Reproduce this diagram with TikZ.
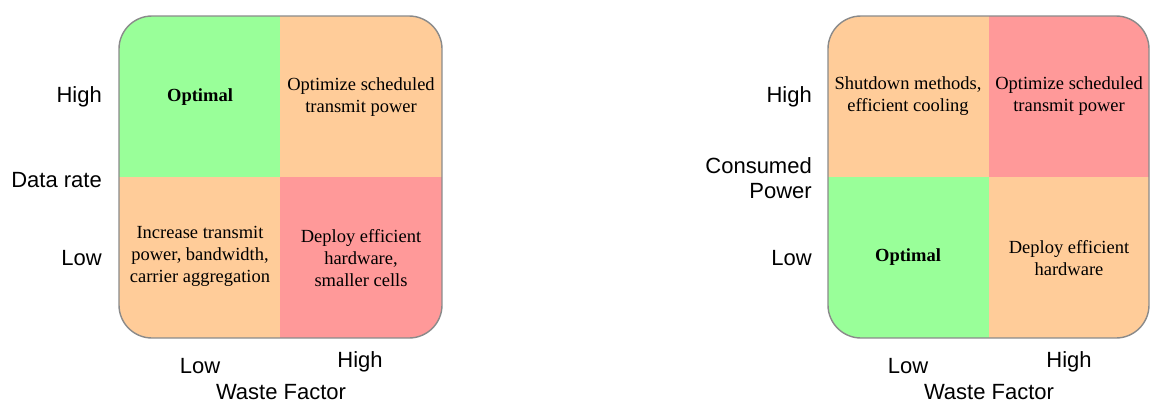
\documentclass[tikz,border=0pt]{standalone}
\usepackage{fontspec}
\setmainfont{Liberation Serif}
\setsansfont{Liberation Sans}
\definecolor{cgreen}{HTML}{99FF99}
\definecolor{corange}{HTML}{FFCC99}
\definecolor{cred}{HTML}{FF9999}
\definecolor{cborder}{HTML}{8A8A8A}
\begin{document}
\begin{tikzpicture}[x=1pt,y=-1pt,
  cell/.style={rectangle,inner sep=0pt,minimum width=161pt,minimum height=161pt,align=center,font=\fontsize{18.5}{22}\selectfont},
  axlab/.style={font=\sffamily\fontsize{22}{25}\selectfont,inner sep=0pt},
  frame/.style={draw=cborder,line width=1.4pt,rounded corners=33pt}]
\useasboundingbox (0,0) rectangle (1162,410);
% ---------- left matrix ----------
\begin{scope}
\clip[rounded corners=33pt] (119,16) rectangle (442,338);
\node[cell,fill=cgreen,anchor=north west] (l11) at (119,16) {};
\node[cell,fill=corange,anchor=north west,minimum width=162pt] (l12) at (280,16) {};
\node[cell,fill=corange,anchor=north west] (l21) at (119,177) {};
\node[cell,fill=cred,anchor=north west,minimum width=162pt] (l22) at (280,177) {};
\end{scope}
\draw[frame] (119,16) rectangle (442,338);
\node[cell,font=\bfseries\fontsize{18.5}{22}\selectfont] (lt11) at (200,97) {Optimal};
\node[cell] (lt12) at (361,97) {Optimize scheduled\\transmit power};
\node[cell] (lt21) at (200,256) {Increase transmit\\power, bandwidth,\\carrier aggregation};
\node[cell] (lt22) at (361,258) {Deploy efficient\\hardware,\\smaller cells};
\node[axlab,anchor=east] (lhigh) at (102,97) {High};
\node[axlab,anchor=east] (lrate) at (102,180) {Data rate};
\node[axlab,anchor=east] (llow) at (102,258) {Low};
\node[axlab] (lxlow) at (200,366) {Low};
\node[axlab] (lxhigh) at (360,362) {High};
\node[axlab] (lxlab) at (281,392) {Waste Factor};
% ---------- right matrix ----------
\begin{scope}
\clip[rounded corners=33pt] (828,16) rectangle (1149,338);
\node[cell,fill=corange,anchor=north west] (r11) at (828,16) {};
\node[cell,fill=cred,anchor=north west] (r12) at (989,16) {};
\node[cell,fill=cgreen,anchor=north west] (r21) at (828,177) {};
\node[cell,fill=corange,anchor=north west] (r22) at (989,177) {};
\end{scope}
\draw[frame] (828,16) rectangle (1149,338);
\node[cell] (rt11) at (908,96) {Shutdown methods,\\efficient cooling};
\node[cell] (rt12) at (1069,96) {Optimize scheduled\\transmit power};
\node[cell,font=\bfseries\fontsize{18.5}{22}\selectfont] (rt21) at (908,257) {Optimal};
\node[cell] (rt22) at (1069,258) {Deploy efficient\\hardware};
\node[axlab,anchor=east] (rhigh) at (812,97) {High};
\node[axlab,anchor=east,align=right] (rpow) at (812,178) {Consumed\\Power};
\node[axlab,anchor=east] (rlow) at (812,258) {Low};
\node[axlab] (rxlow) at (908,366) {Low};
\node[axlab] (rxhigh) at (1069,362) {High};
\node[axlab] (rxlab) at (989,392) {Waste Factor};
\end{tikzpicture}
\end{document}
